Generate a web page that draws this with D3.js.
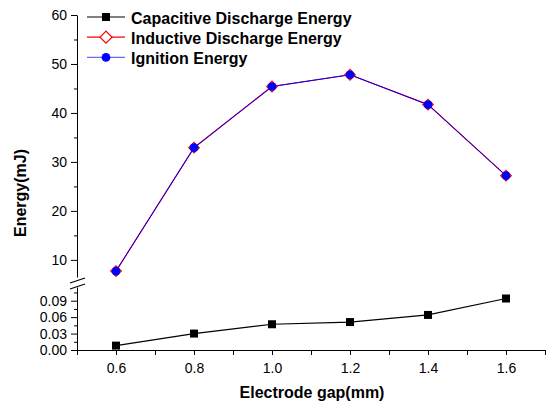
<!DOCTYPE html>
<html><head><meta charset="utf-8">
<script src="https://cdn.jsdelivr.net/npm/d3@7"></script>
<style>body{margin:0;background:#fff}svg{display:block}text{font-family:Arial,"Liberation Sans",sans-serif}</style>
</head><body>
<svg id="c" width="550" height="408"></svg>
<script>
const gaps = [0.6, 0.8, 1.0, 1.2, 1.4, 1.6];
const capacitive = [0.008, 0.030, 0.047, 0.051, 0.064, 0.094];
const inductive = [7.7, 32.9, 45.4, 47.8, 41.7, 27.2];
const ignition = [7.7, 32.9, 45.4, 47.8, 41.7, 27.2];
const seriesNames = ["Capacitive Discharge Energy", "Inductive Discharge Energy", "Ignition Energy"];
const xTicks = [0.6, 0.8, 1.0, 1.2, 1.4, 1.6];
const xMinor = [0.5, 0.7, 0.9, 1.1, 1.3, 1.5, 1.7];
const yUpperTicks = [10, 20, 30, 40, 50, 60];
const yUpperMinor = [15, 25, 35, 45, 55];
const yLowerTicks = [0.00, 0.03, 0.06, 0.09];
const yLowerMinor = [0.015, 0.045, 0.075, 0.105];

const svg = d3.select("#c");
const x = d3.scaleLinear().domain([0.5, 1.7]).range([77, 545]);
const yU = d3.scaleLinear().domain([6.5, 60]).range([277, 15]);
const yL = d3.scaleLinear().domain([0, 0.115]).range([350, 287]);

function yAxis(scale, major, minor, fmt){
  const g = svg.append("g").attr("transform","translate(77,0)");
  g.call(d3.axisLeft(scale).tickValues(major).tickFormat(fmt).tickSize(6).tickPadding(4).tickSizeOuter(0));
  g.append("g").call(d3.axisLeft(scale).tickValues(minor).tickFormat("").tickSize(3).tickSizeOuter(0))
    .select(".domain").remove();
  g.selectAll("text").attr("font-size",14).attr("fill","#000").attr("font-family","Arial, 'Liberation Sans', sans-serif");
  g.selectAll("line,path").attr("stroke","#000");
}
yAxis(yU, yUpperTicks, yUpperMinor, d3.format("d"));
yAxis(yL, yLowerTicks, yLowerMinor, d3.format(".2f"));

const gx = svg.append("g").attr("transform","translate(0,350)");
gx.call(d3.axisBottom(x).tickValues(xTicks).tickFormat(d3.format(".1f")).tickSize(5).tickPadding(8).tickSizeOuter(0));
gx.append("g").call(d3.axisBottom(x).tickValues(xMinor).tickFormat("").tickSize(5).tickSizeOuter(0)).select(".domain").remove();
gx.selectAll("text").attr("font-size",14).attr("fill","#000").attr("font-family","Arial, 'Liberation Sans', sans-serif");
gx.selectAll("line,path").attr("stroke","#000");

// break marks
const bTop = yU.range()[0], bBot = yL.range()[1];
[[bTop+5, bTop], [bBot+1, bBot-4]].forEach(([y1,y2])=>{
  svg.append("line").attr("x1",70).attr("y1",y1+1).attr("x2",85).attr("y2",y2+1)
    .attr("stroke","#000").attr("stroke-width",1.2);
});

// lines
const lineU = d3.line().x((d,i)=>x(gaps[i])).y(d=>yU(d));
const lineL = d3.line().x((d,i)=>x(gaps[i])).y(d=>yL(d));
svg.append("path").attr("d",lineL(capacitive)).attr("fill","none").attr("stroke","#000").attr("stroke-width",1.2);
svg.append("path").attr("d",lineU(inductive)).attr("fill","none").attr("stroke","#ff0000").attr("stroke-width",1.2);
svg.append("path").attr("d",lineU(ignition)).attr("fill","none").attr("stroke","#0000ff").attr("stroke-width",1);

const sq = d3.symbol().type(d3.symbolSquare).size(64);
const dia = d3.symbol().type(d3.symbolSquare).size(56);
const cir = d3.symbol().type(d3.symbolCircle).size(60);
svg.selectAll(".cap").data(capacitive).join("path").attr("d",sq)
  .attr("transform",(d,i)=>`translate(${x(gaps[i])},${yL(d)})`).attr("fill","#000");
svg.selectAll(".ind").data(inductive).join("path").attr("d",dia)
  .attr("transform",(d,i)=>`translate(${x(gaps[i])},${yU(d)}) rotate(45)`).attr("fill","#fff").attr("stroke","#ff0000").attr("stroke-width",1.2);
svg.selectAll(".ign").data(ignition).join("path").attr("d",cir)
  .attr("transform",(d,i)=>`translate(${x(gaps[i])},${yU(d)})`).attr("fill","#0000ff");

// legend
const leg = [
  {name: seriesNames[0], color:"#000", sym: sq, fill:"#000", stroke:"none", rot:0},
  {name: seriesNames[1], color:"#ff0000", sym: d3.symbol().type(d3.symbolSquare).size(72), fill:"#fff", stroke:"#ff0000", rot:45},
  {name: seriesNames[2], color:"#6a6aff", sym: cir, fill:"#0000ff", stroke:"none", rot:0}
];
leg.forEach((l,i)=>{
  const yy = 17 + i*20.2;
  const g = svg.append("g").attr("transform",`translate(0,${yy})`);
  g.append("line").attr("x1",87).attr("x2",125).attr("y1",0).attr("y2",0).attr("stroke",l.color).attr("stroke-width",1.2);
  g.append("path").attr("d",l.sym).attr("transform",`translate(106,0) rotate(${l.rot})`).attr("fill",l.fill).attr("stroke",l.stroke).attr("stroke-width",1.2);
  g.append("text").attr("x",131).attr("y",6.5).attr("font-size",16).attr("font-weight","bold").text(l.name);
});

// titles
svg.append("text").attr("x",312).attr("y",398).attr("text-anchor","middle").attr("font-size",16).attr("font-weight","bold").text("Electrode gap(mm)");
svg.append("text").attr("transform","translate(26,193) rotate(-90)").attr("text-anchor","middle").attr("font-size",16).attr("font-weight","bold").text("Energy(mJ)");
</script>
</body></html>
